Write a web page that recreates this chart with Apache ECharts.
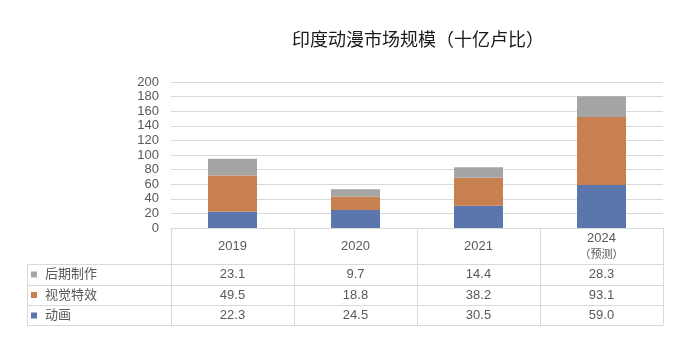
<!DOCTYPE html>
<html><head><meta charset="utf-8">
<script src="https://cdn.jsdelivr.net/npm/echarts@6/dist/echarts.min.js"></script>
<style>html,body{margin:0;padding:0;background:#fff}#c{width:700px;height:360px}</style>
</head><body><div id="c"></div>
<script>
var categories = ['2019', '2020', '2021', '2024'];
var categoryNotes = ['', '', '', '（预测）'];
var animation = [22.3, 24.5, 30.5, 59.0];
var vfx = [49.5, 18.8, 38.2, 93.1];
var post = [23.1, 9.7, 14.4, 28.3];
var seriesNames = ['动画', '视觉特效', '后期制作'];
var yTicks = [0, 20, 40, 60, 80, 100, 120, 140, 160, 180, 200];

var FONT = '"Liberation Sans", "Noto Sans CJK SC", sans-serif';
var TXT = '#595959';
var LINE = '#d9d9d9';
var colors = ['#5b76ad', '#c98050', '#a5a5a5'];

// layout
var G = {left: 171, right: 663, top: 82, bottom: 228};
var rows = [264, 285, 305, 325];
var tableLeft = 27;

var chart = echarts.init(document.getElementById('c'), null, {renderer: 'canvas'});

function fmt(v) { return v.toFixed(1); }

function rowAxis(values, offset, showLabel) {
  return {
    type: 'category', position: 'bottom', offset: offset, data: categories,
    axisLine: {show: true, lineStyle: {color: LINE, width: 1}},
    axisTick: {show: false},
    axisLabel: {
      show: showLabel, interval: 0, margin: 10, verticalAlign: 'middle',
      color: TXT, fontSize: 13, fontFamily: FONT,
      formatter: function (v, i) { return values ? fmt(values[i]) : ''; }
    },
    splitLine: {show: false}
  };
}

var series = [animation, vfx, post].map(function (d, i) {
  return {
    name: seriesNames[i], type: 'bar', stack: 'total', data: d,
    barWidth: 49, itemStyle: {color: colors[i]}, xAxisIndex: 0
  };
});

var graphicLines = [];
rows.forEach(function (y) {
  graphicLines.push({type: 'line', shape: {x1: tableLeft, y1: y + 0.5, x2: G.left, y2: y + 0.5},
    style: {stroke: LINE, lineWidth: 1}, silent: true});
});
graphicLines.push({type: 'line', shape: {x1: tableLeft + 0.5, y1: rows[0], x2: tableLeft + 0.5, y2: rows[3] + 0.5},
  style: {stroke: LINE, lineWidth: 1}, silent: true});

chart.setOption({
  animation: false,
  title: {
    text: '印度动漫市场规模（十亿卢比）', left: 287, top: 25,
    textStyle: {fontSize: 18, fontWeight: 'normal', color: '#1a1a1a', fontFamily: '"Noto Sans CJK SC", sans-serif'}
  },
  legend: {
    data: ['后期制作', '视觉特效', '动画'],
    orient: 'vertical', left: 31, top: 268, itemWidth: 6, itemHeight: 6, itemGap: 7.5,
    icon: 'rect', padding: 0,
    textStyle: {color: TXT, fontSize: 13, fontFamily: FONT, padding: [0, 0, 0, 3]}
  },
  grid: {left: G.left, right: 700 - G.right, top: G.top, bottom: 360 - G.bottom, containLabel: false},
  xAxis: [
    {
      type: 'category', position: 'bottom', offset: 0, data: categories,
      axisLine: {show: true, lineStyle: {color: LINE}},
      axisTick: {show: true, interval: 0, alignWithLabel: false, inside: false, length: rows[3] - G.bottom,
        lineStyle: {color: LINE}},
      axisLabel: {
        interval: 0, margin: 18, verticalAlign: 'middle', color: TXT, fontSize: 13, fontFamily: FONT,
        lineHeight: 16,
        formatter: function (v, i) { return categoryNotes[i] ? '{a|' + v + '}\n{b|' + categoryNotes[i] + '}' : v; },
        rich: {a: {fontSize: 13, color: TXT, fontFamily: FONT, lineHeight: 16},
               b: {fontSize: 11, color: TXT, fontFamily: '"Noto Sans CJK SC", sans-serif', lineHeight: 16}}
      }
    },
    rowAxis(post, rows[0] - G.bottom, true),
    rowAxis(vfx, rows[1] - G.bottom, true),
    rowAxis(animation, rows[2] - G.bottom, true),
    rowAxis(null, rows[3] - G.bottom, false)
  ],
  yAxis: {
    type: 'value', min: yTicks[0], max: yTicks[yTicks.length - 1], interval: yTicks[1] - yTicks[0],
    axisLine: {show: false}, axisTick: {show: false},
    axisLabel: {color: TXT, fontSize: 13, fontFamily: FONT, margin: 12},
    splitLine: {lineStyle: {color: LINE}}
  },
  graphic: graphicLines,
  series: series
});
</script></body></html>
